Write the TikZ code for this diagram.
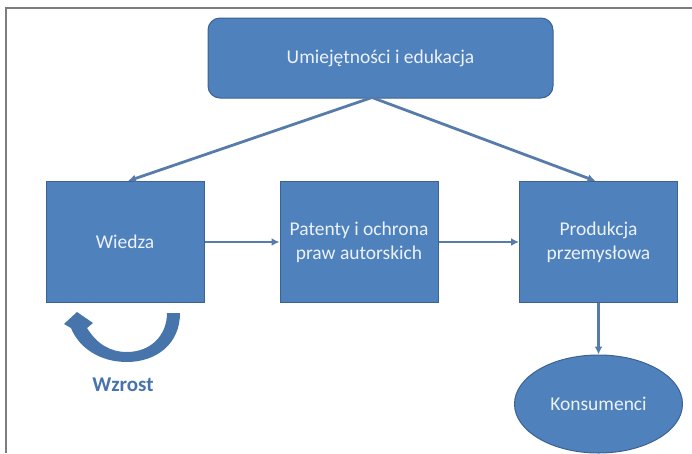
\documentclass[tikz,border=0pt]{standalone}
\usepackage{fontspec}
\setmainfont{Carlito}
\usetikzlibrary{arrows.meta,shapes.geometric}
\definecolor{boxfill}{RGB}{79,129,189}
\definecolor{boxdraw}{RGB}{60,98,145}
\definecolor{conn}{RGB}{88,124,170}
\definecolor{framegray}{RGB}{125,125,125}
\definecolor{txtw}{RGB}{236,242,250}
\definecolor{wzrostc}{RGB}{72,116,172}
\begin{document}
\begin{tikzpicture}[x=1pt,y=-1pt,
  blk/.style={draw=boxdraw,line width=1pt,fill=boxfill,text=txtw,
    font=\fontsize{19.5}{24}\selectfont,align=center,
    minimum width=158pt,minimum height=121pt,inner sep=0pt},
  topblk/.style={blk,rounded corners=12pt,minimum width=345pt,minimum height=80pt},
  ellblk/.style={blk,ellipse,minimum width=168pt,minimum height=98pt},
  conn/.style={draw=conn,line width=2.8pt,-{Latex[length=8pt,width=8pt]}},
  framel/.style={draw=framegray,line width=1.6pt}
]
\useasboundingbox (0,0) rectangle (692,453);
% frame
\draw[framel] (692,8) -- (6,8) -- (6,453);
% nodes
\node[topblk] (top) at (380.5,58) {Umiejętności i edukacja};
\node[blk] (wiedza) at (125,242) {Wiedza};
\node[blk] (patenty) at (359,242) {Patenty i ochrona\\praw autorskich};
\node[blk] (prod) at (598.5,242) {Produkcja\\przemysłowa};
\node[ellblk] (kons) at (598.5,404) {Konsumenci};
\coordinate (apex) at (372,97.5);
% connectors
\draw[conn] (apex) -- ([xshift=3pt]wiedza.north);
\draw[conn] (apex) -- ([xshift=-3pt]prod.north);
\draw[conn] (wiedza.east) -- (patenty.west);
\draw[conn] (patenty.east) -- (prod.west);
\draw[conn] (prod.south) -- (kons.north);
% curved growth arrow
\fill[wzrostc] (180,313) .. controls (180,345) and (155,362) .. (127,362)
  .. controls (100,362) and (79,348) .. (71,328)
  -- (64,324) -- (77,312) -- (93,323) -- (87,328)
  .. controls (97,344) and (110,352) .. (127,352)
  .. controls (150,352) and (167,336) .. (167,313) -- cycle;
\node[text=wzrostc,font=\bfseries\fontsize{21}{25}\selectfont] (wzrost) at (123,385) {Wzrost};
\end{tikzpicture}
\end{document}
